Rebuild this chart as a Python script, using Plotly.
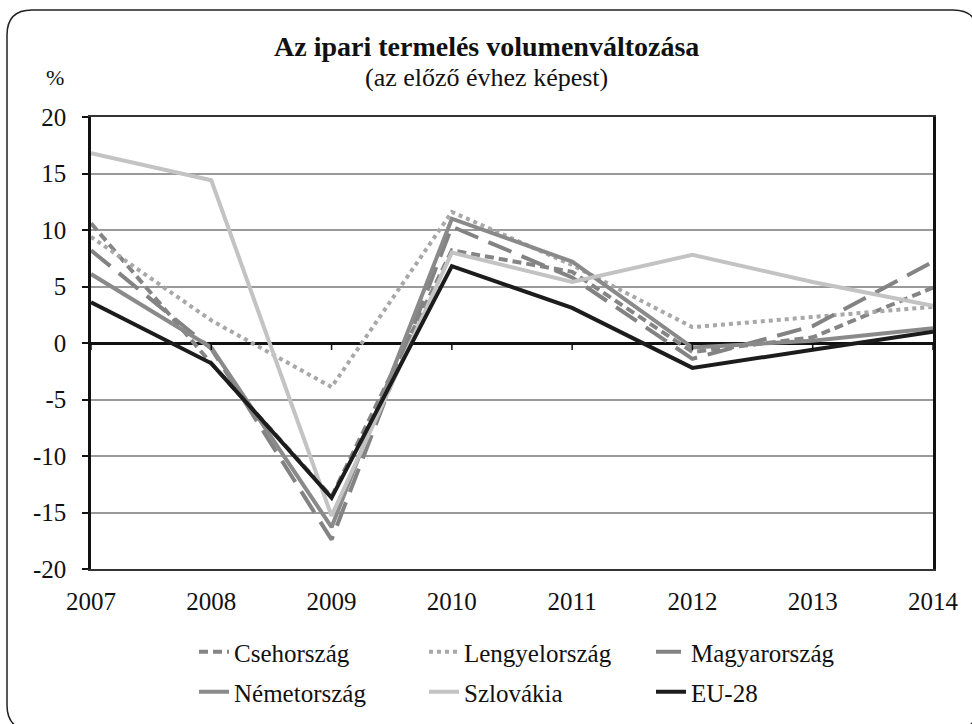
import plotly.graph_objects as go

years = [2007, 2008, 2009, 2010, 2011, 2012, 2013, 2014]
cseh = [10.6, -1.8, -13.6, 8.2, 6.3, -0.8, 0.5, 4.9]
lengyel = [9.4, 2.0, -3.9, 11.6, 6.9, 1.4, 2.3, 3.2]
magyar = [8.2, -0.5, -17.4, 10.3, 5.8, -1.4, 1.5, 7.2]
nemet = [6.1, -0.4, -16.3, 11.0, 7.2, -0.4, 0.2, 1.3]
szlovakia = [16.8, 14.4, -15.3, 8.0, 5.4, 7.8, 5.4, 3.3]
eu28 = [3.6, -1.8, -13.7, 6.8, 3.1, -2.2, -0.6, 1.0]

series_names = ["Csehország", "Lengyelország", "Magyarország", "Németország", "Szlovákia", "EU-28"]
series_values = [cseh, lengyel, magyar, nemet, szlovakia, eu28]
y_ticks = [-20, -15, -10, -5, 0, 5, 10, 15, 20]
y_tick_labels = ["-20", "-15", "-10", "-5", "0", "5", "10", "15", "20"]
x_tick_labels = [str(y) for y in years]

styles = [
    dict(color="#858585", dash="9px,5px", width=4),
    dict(color="#a8a8a8", dash="4px,4px", width=4),
    dict(color="#838383", dash="25px,11px", width=4),
    dict(color="#8a8a8a", dash="solid", width=4),
    dict(color="#c3c3c3", dash="solid", width=4),
    dict(color="#1c1c1c", dash="solid", width=4),
]

W, H = 972, 724
L, R, T, B = 91, 39, 117, 155
PW, PH = W - L - R, H - T - B

def px_x(px):
    return (px - L) / PW

def px_y(py):
    return (H - B - py) / PH

FONT = "Liberation Serif"

fig = go.Figure()
legend_pos = [(194, 652), (424, 652), (651, 652), (194, 692), (424, 692), (651, 692)]
for i, (name, vals, st) in enumerate(zip(series_names, series_values, styles)):
    lg = "legend" if i == 0 else f"legend{i+1}"
    fig.add_trace(go.Scatter(x=years, y=vals, mode="lines", name=name,
                             line=dict(color=st["color"], dash=st["dash"], width=st["width"]),
                             legend=lg))

layout_legends = {}
for i, (lx, ly) in enumerate(legend_pos):
    key = "legend" if i == 0 else f"legend{i+1}"
    layout_legends[key] = dict(x=px_x(lx), y=px_y(ly), xanchor="left", yanchor="middle",
                               orientation="h", bgcolor="rgba(0,0,0,0)",
                               font=dict(family=FONT, size=25, color="#111"),
                               itemclick=False, itemdoubleclick=False)

# rounded border
x0, x1 = px_x(7), px_x(978)
y0, y1 = px_y(10), px_y(730)
rx, ry = 25 / PW, 25 / PH
path = (f"M{x0+rx},{y0} L{x1-rx},{y0} Q{x1},{y0} {x1},{y0-ry} "
        f"L{x1},{y1+ry} Q{x1},{y1} {x1-rx},{y1} L{x0+rx},{y1} Q{x0},{y1} {x0},{y1+ry} "
        f"L{x0},{y0-ry} Q{x0},{y0} {x0+rx},{y0} Z")
shapes = [dict(type="path", xref="paper", yref="paper", path=path,
               line=dict(color="#222", width=1.5), fillcolor="rgba(0,0,0,0)", layer="above")]
# ticks on the zero line
for yv in years:
    shapes.append(dict(type="line", xref="x", yref="y", x0=yv, x1=yv, ysizemode="pixel",
                       yanchor=0, y0=0, y1=-7, line=dict(color="#111", width=1.5)))

fig.update_layout(
    width=W, height=H,
    margin=dict(l=L, r=R, t=T, b=B, autoexpand=False),
    paper_bgcolor="white", plot_bgcolor="white",
    font=dict(family=FONT, size=25, color="#111"),
    showlegend=True,
    shapes=shapes,
    annotations=[
        dict(text="<b>Az ipari termelés volumenváltozása</b>", xref="paper", yref="paper",
             x=px_x(486), y=px_y(46), xanchor="center", yanchor="middle", showarrow=False,
             font=dict(family=FONT, size=28, color="#111")),
        dict(text="(az előző évhez képest)", xref="paper", yref="paper",
             x=px_x(486), y=px_y(78), xanchor="center", yanchor="middle", showarrow=False,
             font=dict(family=FONT, size=26, color="#111")),
        dict(text="%", xref="paper", yref="paper",
             x=px_x(55), y=px_y(78), xanchor="center", yanchor="middle", showarrow=False,
             font=dict(family=FONT, size=22, color="#111")),
    ],
    **layout_legends,
)
fig.update_xaxes(range=[2007, 2014], tickvals=years, ticktext=x_tick_labels, ticks="",
                 showgrid=False, zeroline=False, showline=True, linecolor="#333", linewidth=2,
                 mirror=True, ticklabelstandoff=9, tickfont=dict(family=FONT, size=25, color="#111"))
fig.update_yaxes(range=[-20, 20], tickvals=y_ticks, ticktext=y_tick_labels, ticks="outside",
                 ticklen=6, tickcolor="#111", tickwidth=1.5,
                 showgrid=True, gridcolor="#9a9a9a", gridwidth=1.5,
                 zeroline=True, zerolinecolor="#111", zerolinewidth=3,
                 showline=True, linecolor="#111", linewidth=2.5, mirror=True,
                 ticklabelstandoff=11, tickfont=dict(family=FONT, size=25, color="#111"))

fig.write_html("out.html", config={"displayModeBar": False},
               post_script="document.body.style.margin='0';")
